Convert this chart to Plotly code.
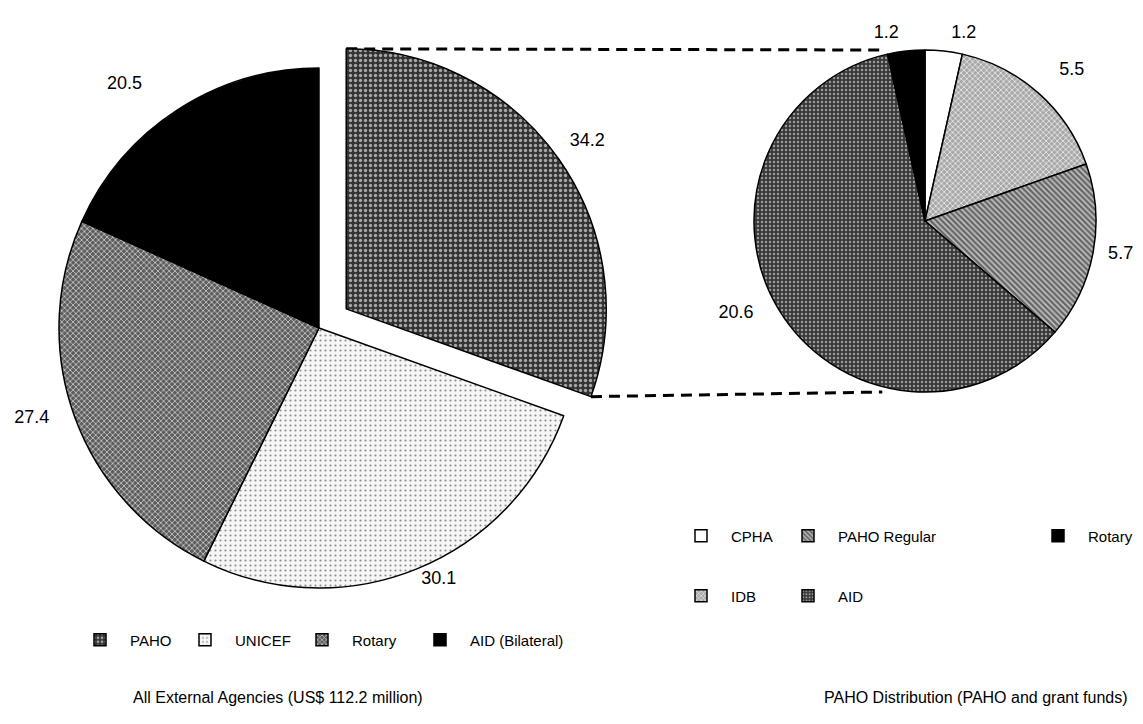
import math
import plotly.graph_objects as go

# ---------------- data ----------------
left_labels = ["PAHO", "UNICEF", "Rotary", "AID (Bilateral)"]
left_values = [34.2, 30.1, 27.4, 20.5]

right_labels = ["CPHA", "IDB", "PAHO Regular", "AID", "Rotary"]
right_values = [1.2, 5.5, 5.7, 20.6, 1.2]

legend_left = ["PAHO", "UNICEF", "Rotary", "AID (Bilateral)"]
legend_row1 = ["CPHA", "PAHO Regular", "Rotary"]
legend_row2 = ["IDB", "AID"]

left_title = "All External Agencies (US$ 112.2 million)"
right_title = "PAHO Distribution (PAHO and grant funds)"

# ---------------- styles ----------------
W, H = 1143, 724
FONT = "Liberation Sans, Arial, sans-serif"
LABEL_FS = 18
LEGEND_FS = 15
TITLE_FS = 16
NB = "\u00a0"
FULL_LINE = "<br>" + NB
# value at full size, followed by a short spacer line (base font of that label is small)
SHORT_LIFT = '<span style="font-size:%dpx">%%{value}</span><br>' % LABEL_FS + NB
SMALL_FS = 9

left_style = {
    "PAHO":            dict(bg="#333333", fg="#a8a8a8", shape=".", size=5, sol=0.35),
    "UNICEF":          dict(bg="#f6f6f6", fg="#8c8c8c", shape=".", size=5, sol=0.15),
    "Rotary":          dict(bg="#5c5c5c", fg="#c4c4c4", shape="x", size=4, sol=0.4),
    "AID (Bilateral)": dict(bg="#000000", fg="#000000", shape="", size=4, sol=0.3),
}
right_style = {
    "CPHA":         dict(bg="#ffffff", fg="#ffffff", shape="", size=4, sol=0.3),
    "IDB":          dict(bg="#a8a8a8", fg="#f0f0f0", shape="x", size=4, sol=0.35),
    "PAHO Regular": dict(bg="#666666", fg="#c4c4c4", shape="\\", size=4, sol=0.4),
    "AID":          dict(bg="#383838", fg="#9a9a9a", shape=".", size=4, sol=0.3),
    "Rotary":       dict(bg="#000000", fg="#000000", shape="", size=4, sol=0.3),
}

# label templates: padding only nudges each outside label away from the rim
left_text = {
    "PAHO": "%{value}" + FULL_LINE,
    "UNICEF": "%{value}",
    "Rotary": "%{value}" + NB * 4,
    "AID (Bilateral)": "%{value}" + NB * 5 + FULL_LINE,
}
right_text = {
    "CPHA": SHORT_LIFT,
    "IDB": NB * 2 + "%{value}" + FULL_LINE,
    "PAHO Regular": NB * 2 + "%{value}",
    "AID": "%{value}" + NB * 4,
    "Rotary": SHORT_LIFT,
}
right_text_size = {
    "CPHA": SMALL_FS, "IDB": LABEL_FS, "PAHO Regular": LABEL_FS, "AID": LABEL_FS, "Rotary": SMALL_FS,
}

def pattern_of(styles, labels):
    return dict(
        shape=[styles[l]["shape"] for l in labels],
        bgcolor=[styles[l]["bg"] for l in labels],
        fgcolor=[styles[l]["fg"] for l in labels],
        size=[styles[l]["size"] for l in labels],
        solidity=[styles[l]["sol"] for l in labels],
        fillmode="replace",
    )

LPULL = 0.128
left_pull = [LPULL, 0, 0, 0]

# pie boxes in pixels (paper == whole figure, zero margins)
L_CX, L_CY, L_R = 311, 320, 260
R_CX, R_CY, R_R = 917, 213, 171
lh = L_R * (1 + LPULL)
left_dom = dict(x=[(L_CX - lh) / W, (L_CX + lh) / W],
                y=[1 - (L_CY + lh) / H, 1 - (L_CY - lh) / H])
right_dom = dict(x=[(R_CX - R_R) / W, (R_CX + R_R) / W],
                 y=[1 - (R_CY + R_R) / H, 1 - (R_CY - R_R) / H])

fig = go.Figure()

fig.add_trace(go.Pie(
    labels=left_labels, values=left_values, sort=False, direction="clockwise",
    rotation=0, pull=left_pull, domain=left_dom,
    marker=dict(colors=[left_style[l]["bg"] for l in left_labels],
                line=dict(color="#000000", width=1.5),
                pattern=pattern_of(left_style, left_labels)),
    texttemplate=[left_text[l] for l in left_labels], textposition="outside",
    automargin=False,
    textfont=dict(family=FONT, size=LABEL_FS, color="#000"),
    showlegend=False, hoverinfo="label+value",
))

fig.add_trace(go.Pie(
    labels=right_labels, values=right_values, sort=False, direction="clockwise",
    rotation=0, domain=right_dom,
    marker=dict(colors=[right_style[l]["bg"] for l in right_labels],
                line=dict(color="#000000", width=1.5),
                pattern=pattern_of(right_style, right_labels)),
    texttemplate=[right_text[l] for l in right_labels], textposition="outside",
    automargin=False,
    textfont=dict(family=FONT, size=[right_text_size[l] for l in right_labels], color="#000"),
    showlegend=False, hoverinfo="label+value",
))

# legend entries (empty bars, so that each legend can be laid out freely)
entry_width = {
    "legend": {"PAHO": 40, "UNICEF": 52, "Rotary": 53, "AID (Bilateral)": 100},
    "legend2": {"CPHA": 42, "PAHO Regular": 185, "Rotary": 50},
    "legend3": {"IDB": 42, "AID": 50},
}
for lg, names, styles in (("legend", legend_left, left_style),
                          ("legend2", legend_row1, right_style),
                          ("legend3", legend_row2, right_style)):
    for name in names:
        s = styles[name]
        fig.add_trace(go.Bar(
            x=[None], y=[None], name=name, legend=lg, legendwidth=entry_width[lg][name],
            marker=dict(color=s["bg"], line=dict(color="#000", width=1.5),
                        pattern=dict(shape=s["shape"], bgcolor=s["bg"], fgcolor=s["fg"],
                                     size=s["size"], solidity=s["sol"], fillmode="replace")),
            hoverinfo="skip",
        ))

# connector lines derived from the pie geometry
def geom(dom, pull):
    bw = (dom["x"][1] - dom["x"][0]) * W
    bh = (dom["y"][1] - dom["y"][0]) * H
    r = min(bw, bh) / (2 + 2 * pull)
    cx = (dom["x"][0] + dom["x"][1]) / 2 * W
    cy = (1 - (dom["y"][0] + dom["y"][1]) / 2) * H
    return cx, cy, r

lcx, lcy, lr = geom(left_dom, LPULL)
rcx, rcy, rr = geom(right_dom, 0)
frac = left_values[0] / sum(left_values)
end_ang = math.radians(frac * 360)
mid_ang = end_ang / 2
pcx = lcx + LPULL * lr * math.sin(mid_ang)
pcy = lcy - LPULL * lr * math.cos(mid_ang)
top_start = (pcx, pcy - lr)
bot_start = (pcx + lr * math.sin(end_ang), pcy - lr * math.cos(end_ang))
top_end = (rcx - 0.25 * rr, rcy - rr)
bot_end = (rcx - 0.25 * rr, rcy + rr)

def px(p):
    return p[0] / W, 1 - p[1] / H

shapes = []
for a, b in ((top_start, top_end), (bot_start, bot_end)):
    (x0, y0), (x1, y1) = px(a), px(b)
    shapes.append(dict(type="line", xref="paper", yref="paper", x0=x0, y0=y0, x1=x1, y1=y1,
                       line=dict(color="#000", width=3, dash="11px,7px"), layer="below"))

legend_common = dict(orientation="h", xanchor="left", yanchor="middle", itemwidth=50,
                     font=dict(family=FONT, size=LEGEND_FS, color="#000"),
                     bgcolor="rgba(0,0,0,0)", borderwidth=0, traceorder="normal")
fig.update_layout(
    width=W, height=H,
    margin=dict(l=0, r=0, t=0, b=0, pad=0, autoexpand=False),
    paper_bgcolor="#ffffff", plot_bgcolor="#ffffff",
    font=dict(family=FONT, size=LEGEND_FS, color="#000"),
    xaxis=dict(visible=False), yaxis=dict(visible=False),
    shapes=shapes,
    legend=dict(x=62 / W, y=1 - 632 / H, **legend_common),
    legend2=dict(x=663 / W, y=1 - 528 / H, **legend_common),
    legend3=dict(x=663 / W, y=1 - 588 / H, **legend_common),
    annotations=[
        dict(text=left_title, xref="paper", yref="paper", x=270 / W, y=1 - 689 / H,
             showarrow=False, font=dict(family=FONT, size=TITLE_FS, color="#000"),
             xanchor="center", yanchor="middle"),
        dict(text=right_title, xref="paper", yref="paper", x=968 / W, y=1 - 689 / H,
             showarrow=False, font=dict(family=FONT, size=TITLE_FS, color="#000"),
             xanchor="center", yanchor="middle"),
    ],
)

fig.write_html("out.html")
